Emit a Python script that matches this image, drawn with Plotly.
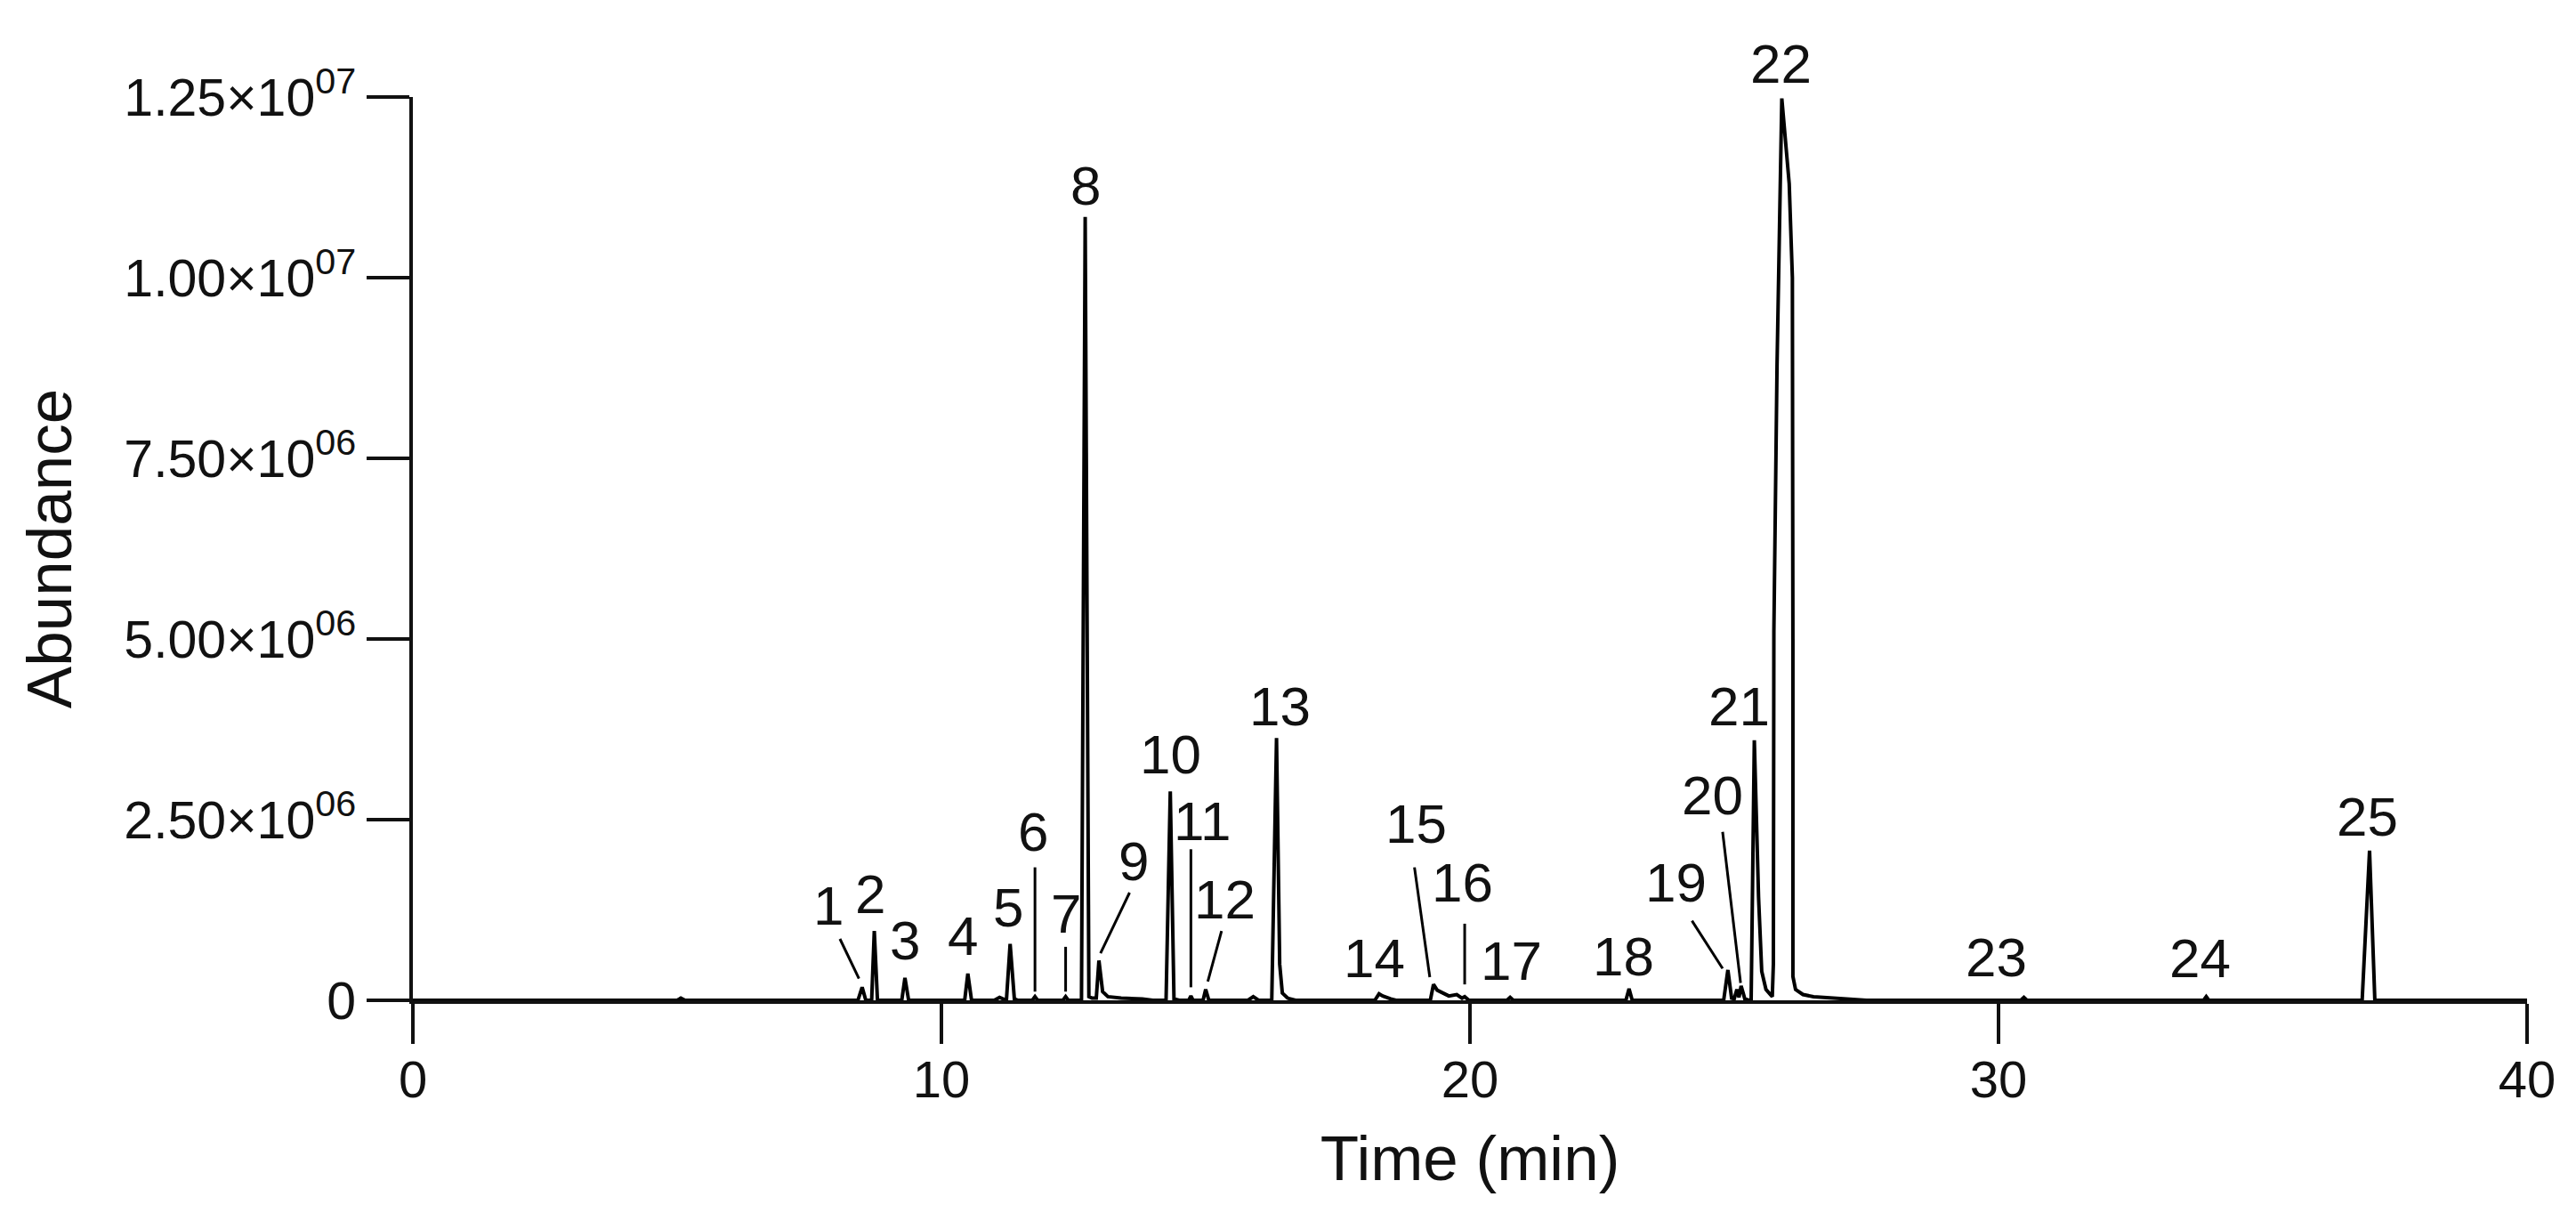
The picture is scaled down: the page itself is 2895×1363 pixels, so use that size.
import plotly.graph_objects as go

# ---------------- data ----------------
time_min = [
    0.0, 5.00, 5.07, 5.15, 8.00,
    8.42, 8.50, 8.57,
    8.68, 8.73, 8.79,
    9.25, 9.31, 9.38,
    10.44, 10.50, 10.57,
    11.00, 11.10, 11.20,
    11.23, 11.30, 11.38, 11.45,
    11.72, 11.77, 11.82,
    12.30, 12.35, 12.40,
    12.65, 12.72, 12.79, 12.85,
    12.93, 12.98, 13.05, 13.15, 13.40, 13.80, 14.00,
    14.25, 14.33, 14.40, 14.50,
    14.68, 14.72, 14.76,
    14.95, 15.00, 15.06,
    15.80, 15.90, 16.00,
    16.25, 16.34, 16.40, 16.45, 16.55, 16.70,
    18.20, 18.28, 18.35, 18.50, 18.60,
    19.25, 19.31, 19.38, 19.50, 19.60, 19.75, 19.85, 19.90, 19.98,
    20.70, 20.76, 20.82,
    22.95, 23.01, 23.07,
    24.80, 24.88, 24.95, 25.00, 25.05, 25.09, 25.13, 25.20, 25.28,
    25.32, 25.38, 25.46, 25.52, 25.60, 25.66, 25.72,
    25.74, 25.75, 25.81, 25.90, 26.04, 26.10, 26.11, 26.11, 26.16, 26.30, 26.50, 27.00, 27.50,
    30.42, 30.48, 30.54,
    33.88, 33.93, 33.98,
    36.88, 37.02, 37.12,
    40.0,
]
abundance = [
    0, 0, 30000, 0, 0,
    0, 180000, 0,
    0, 960000, 0,
    0, 310000, 0,
    0, 370000, 0,
    0, 40000, 0,
    0, 780000, 20000, 0,
    0, 50000, 0,
    0, 50000, 0,
    0, 10840000, 50000, 30000,
    30000, 550000, 120000, 50000, 30000, 20000, 0,
    0, 2890000, 20000, 0,
    0, 60000, 0,
    0, 150000, 0,
    0, 50000, 0,
    0, 3630000, 500000, 100000, 30000, 0,
    0, 90000, 60000, 20000, 0,
    0, 220000, 140000, 100000, 60000, 80000, 30000, 50000, 0,
    0, 40000, 0,
    0, 160000, 0,
    0, 420000, 30000, 20000, 150000, 40000, 200000, 20000, 0,
    0, 3600000, 1430000, 400000, 150000, 100000, 50000,
    500000, 5100000, 8800000, 12480000, 11300000, 10000000, 5000000, 330000, 150000, 80000, 50000, 20000, 0,
    0, 40000, 0,
    0, 50000, 0,
    0, 2070000, 0,
    0,
]

# peak labels: text, centre time, centre abundance
peak_labels = ["1", "2", "3", "4", "5", "6", "7", "8", "9", "10", "11", "12", "13",
               "14", "15", "16", "17", "18", "19", "20", "21", "22", "23", "24", "25"]
label_time = [7.87, 8.66, 9.31, 10.41, 11.27, 11.73, 12.35, 12.72, 13.64, 14.33, 14.94, 15.36, 16.40,
              18.19, 18.98, 19.86, 20.79, 22.91, 23.89, 24.59, 25.09, 25.89, 29.96, 33.81, 36.97]
label_abund = [1.31e6, 1.47e6, 0.83e6, 0.89e6, 1.29e6, 2.33e6, 1.20e6, 11.28e6, 1.93e6, 3.41e6, 2.48e6, 1.40e6, 4.07e6,
               0.59e6, 2.45e6, 1.63e6, 0.55e6, 0.61e6, 1.63e6, 2.84e6, 4.07e6, 12.96e6, 0.60e6, 0.59e6, 2.54e6]

# leader lines (from label towards peak)
leader_t0 = [8.08, 11.77, 12.35, 13.56, 14.72, 15.30, 18.95, 19.90, 24.20, 24.78]
leader_v0 = [0.85e6, 1.84e6, 0.74e6, 1.49e6, 2.09e6, 0.96e6, 1.84e6, 1.06e6, 1.10e6, 2.33e6]
leader_t1 = [8.44, 11.77, 12.35, 13.01, 14.72, 15.04, 19.24, 19.90, 24.78, 25.12]
leader_v1 = [0.30e6, 0.12e6, 0.12e6, 0.65e6, 0.18e6, 0.26e6, 0.32e6, 0.22e6, 0.44e6, 0.24e6]

x_ticks = [0, 10, 20, 30, 40]
y_ticks = [0, 2.5e6, 5.0e6, 7.5e6, 1.0e7, 1.25e7]
y_tick_text = ["0",
               "2.50×10<sup>06</sup>", "5.00×10<sup>06</sup>", "7.50×10<sup>06</sup>",
               "1.00×10<sup>07</sup>", "1.25×10<sup>07</sup>"]

FONT = "Liberation Sans, Arial, Helvetica, sans-serif"
INK = "#111111"

fig = go.Figure()
fig.add_trace(go.Scatter(
    x=time_min, y=abundance, mode="lines",
    line=dict(color="#000000", width=4),
    showlegend=False, hoverinfo="x+y",
))

for t0, v0, t1, v1 in zip(leader_t0, leader_v0, leader_t1, leader_v1):
    fig.add_shape(type="line", xref="x", yref="y", x0=t0, y0=v0, x1=t1, y1=v1,
                  line=dict(color="#000000", width=3))

ymax = y_ticks[-1]
for txt, t, v in zip(peak_labels, label_time, label_abund):
    if v > ymax:
        fig.add_annotation(x=t, y=ymax, text=txt, showarrow=False,
                           xanchor="center", yanchor="middle",
                           yshift=(v - ymax) / 1e6 * 81.2,
                           font=dict(family=FONT, size=62, color=INK))
    else:
        fig.add_annotation(x=t, y=v, text=txt, showarrow=False,
                           xanchor="center", yanchor="middle",
                           font=dict(family=FONT, size=62, color=INK))

fig.update_layout(
    width=2895, height=1363,
    margin=dict(l=456, r=63, t=101, b=247),
    paper_bgcolor="white", plot_bgcolor="white",
    font=dict(family=FONT, color=INK),
    showlegend=False,
    xaxis=dict(
        range=[0, 40], tickmode="array", tickvals=x_ticks,
        ticks="outside", ticklen=45, tickwidth=4, tickcolor="#111111",
        showline=True, linewidth=4, linecolor="#111111",
        showgrid=False, zeroline=False,
        ticklabelstandoff=-10,
        tickfont=dict(family=FONT, size=58, color=INK),
        title=dict(text="Time (min)", font=dict(family=FONT, size=71, color=INK), standoff=34),
    ),
    yaxis=dict(
        range=[0, 1.25e7], tickmode="array", tickvals=y_ticks, ticktext=y_tick_text,
        ticks="outside", ticklen=48, tickwidth=4, tickcolor="#111111",
        showline=True, linewidth=4, linecolor="#111111",
        showgrid=False, zeroline=False,
        tickfont=dict(family=FONT, size=59, color=INK),
        title=dict(text="Abundance", font=dict(family=FONT, size=71, color=INK), standoff=36),
    ),
)

fig.write_html("out.html")
